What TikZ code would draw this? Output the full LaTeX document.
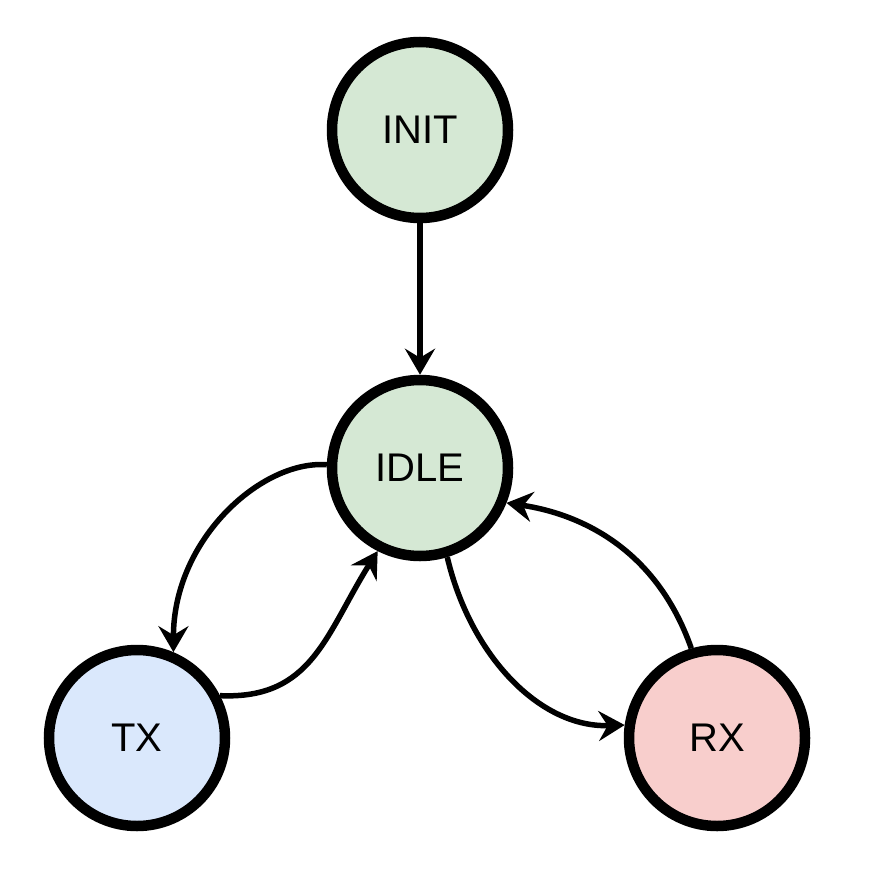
\documentclass[tikz,border=0pt]{standalone}
\usepackage{fontspec}
\setmainfont{Liberation Sans}
\usetikzlibrary{arrows.meta}

\definecolor{stategreen}{HTML}{D5E8D4}
\definecolor{stateblue}{HTML}{DAE8FC}
\definecolor{statered}{HTML}{F8CECC}

\begin{document}
\begin{tikzpicture}[x=1pt, y=1pt,
    state/.style={draw, circle, line width=10.5pt, minimum size=176pt, inner sep=0pt,
                  font=\fontsize{40}{48}\selectfont},
    trans/.style={line width=5.5pt, -{Stealth[length=26pt, width=30pt, inset=9pt]}}]
			\useasboundingbox (0,0) rectangle (874,-891);

			% states
			\node[state, fill=stategreen] (init) at (420,-130) {INIT};
			\node[state, fill=stategreen] (idle) at (420,-468) {IDLE};
			\node[state, fill=stateblue] (tx) at (137,-738) {TX};
			\node[state, fill=statered] (rx) at (717,-738) {RX};

			% init to idle
			\draw[trans] (init) -- (idle);

			% idle <-> tx
			\draw[trans] (idle.178) .. controls +(-65,5) and +(0,113) .. (tx.67);
			\draw[trans] (tx.27) .. controls +(92,-4) and +(-52,-83) .. (idle.243);

			% idle <-> rx
			\draw[trans] (idle.287) .. controls +(23,-98) and +(-85,-3) .. (rx.172);
			\draw[trans] (rx.106) .. controls +(-37,105) and +(67,-10) .. (idle.338);

		\end{tikzpicture}
\end{document}
